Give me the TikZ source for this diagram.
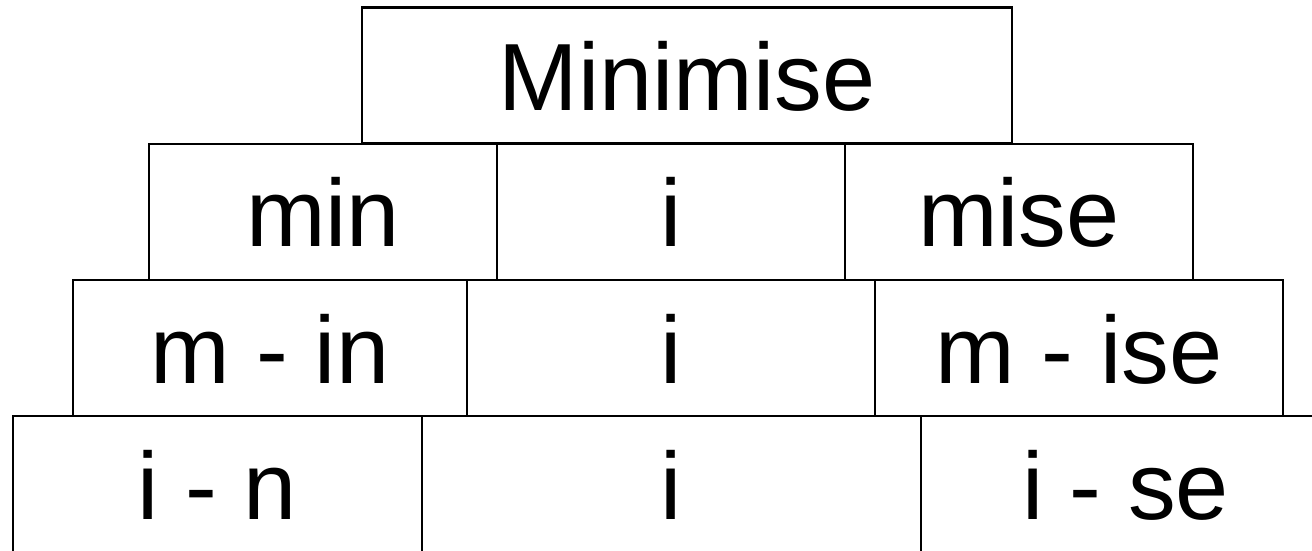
\documentclass[tikz,border=0pt]{standalone}
\usepackage{fontspec}
\setmainfont{Liberation Sans}
\begin{document}
\begin{tikzpicture}[x=1pt,y=-1pt,
  cell/.style={draw=black,line width=2.2pt,inner sep=0pt,outer sep=0pt,
    font=\fontsize{95.5}{100}\selectfont,text height=70pt,text depth=0pt,
    minimum height=136pt,anchor=center}]
\clip (0,0) rectangle (1312,550);
\fill[white] (0,0) rectangle (1312,550);
% row 1
\node[cell,minimum width=650pt] (top) at (687,75.5) {Minimise};
% row 2
\node[cell,minimum width=348pt] (r2a) at (323,211.75) {min};
\node[cell,minimum width=348pt] (r2b) at (671,211.75) {i};
\node[cell,minimum width=348pt] (r2c) at (1019,211.75) {mise};
% row 3
\node[cell,minimum width=394pt] (r3a) at (270,348) {m - in};
\node[cell,minimum width=408pt] (r3b) at (671,348) {i};
\node[cell,minimum width=408pt] (r3c) at (1079,348) {m - ise};
% row 4
\node[cell,minimum width=409pt] (r4a) at (217.5,484) {i - n};
\node[cell,minimum width=499pt] (r4b) at (671.5,484) {i};
\node[cell,minimum width=409pt] (r4c) at (1125.5,484) {i - se};
\end{tikzpicture}
\end{document}
